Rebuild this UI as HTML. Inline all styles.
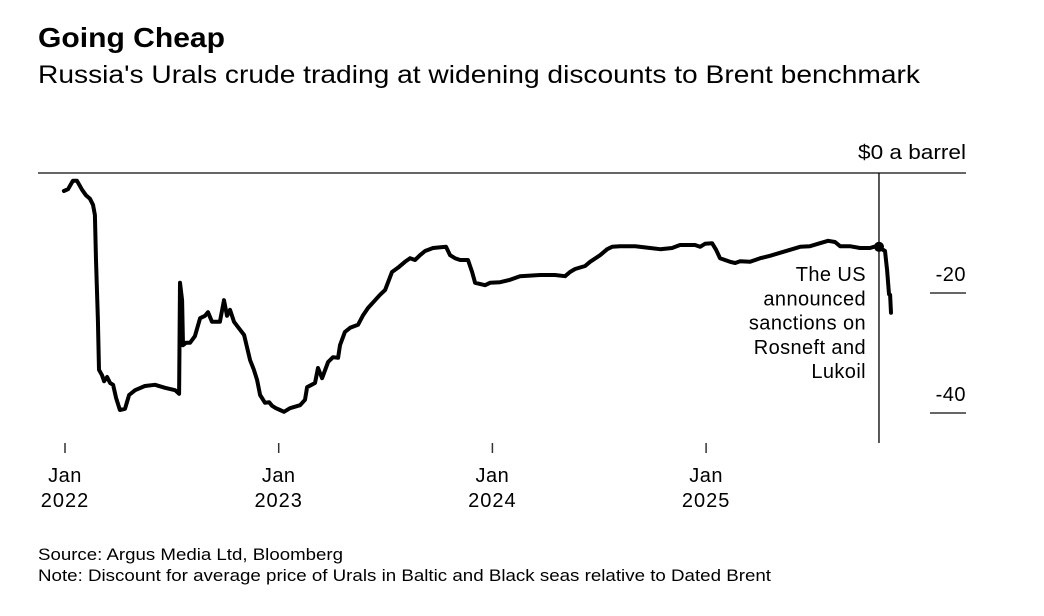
<!DOCTYPE html>
<html><head><meta charset="utf-8"><style>
body{margin:0;background:#fff;width:1044px;height:616px;overflow:hidden;font-family:"Liberation Sans",sans-serif;color:#000}
</style></head><body>
<svg width="1044" height="616" style="position:absolute;left:0;top:0" font-family="Liberation Sans, sans-serif">
<text x="38" y="47" font-size="28" font-weight="bold" textLength="187" lengthAdjust="spacingAndGlyphs">Going Cheap</text>
<text x="38" y="83" font-size="25" textLength="882" lengthAdjust="spacingAndGlyphs">Russia's Urals crude trading at widening discounts to Brent benchmark</text>
<g id="axes"></g>
<g id="plot"></g>
<text x="38" y="560" font-size="17" textLength="305" lengthAdjust="spacingAndGlyphs">Source: Argus Media Ltd, Bloomberg</text>
<text x="38" y="581" font-size="17" textLength="733" lengthAdjust="spacingAndGlyphs">Note: Discount for average price of Urals in Baltic and Black seas relative to Dated Brent</text>
</svg>
<script>
const years=[2021.995,2022.014,2022.037,2022.056,2022.080,2022.098,2022.117,2022.131,2022.140,2022.145,2022.154,2022.159,2022.173,2022.183,2022.197,2022.211,2022.225,2022.239,2022.257,2022.281,2022.300,2022.328,2022.374,2022.421,2022.468,2022.515,2022.534,2022.538,2022.548,2022.552,2022.566,2022.585,2022.608,2022.632,2022.655,2022.669,2022.688,2022.725,2022.744,2022.758,2022.772,2022.791,2022.810,2022.838,2022.866,2022.884,2022.899,2022.913,2022.936,2022.955,2022.969,2022.987,2023.006,2023.025,2023.053,2023.100,2023.123,2023.133,2023.170,2023.184,2023.203,2023.231,2023.254,2023.278,2023.287,2023.310,2023.334,2023.371,2023.395,2023.418,2023.451,2023.474,2023.498,2023.530,2023.558,2023.591,2023.615,2023.638,2023.661,2023.685,2023.722,2023.783,2023.802,2023.825,2023.849,2023.886,2023.905,2023.919,2023.966,2023.989,2024.036,2024.083,2024.129,2024.223,2024.293,2024.340,2024.363,2024.387,2024.434,2024.457,2024.504,2024.537,2024.560,2024.597,2024.668,2024.738,2024.785,2024.841,2024.878,2024.948,2024.972,2024.995,2025.028,2025.047,2025.065,2025.112,2025.136,2025.159,2025.206,2025.253,2025.299,2025.346,2025.393,2025.440,2025.486,2025.533,2025.571,2025.603,2025.627,2025.673,2025.720,2025.767,2025.795,2025.814,2025.837,2025.847,2025.856,2025.861,2025.865];
const values=[-3.0,-2.7,-1.3,-1.3,-2.8,-3.7,-4.3,-5.3,-7.0,-14.5,-24.5,-32.8,-33.7,-34.7,-34.0,-35.0,-35.3,-37.5,-39.5,-39.3,-37.0,-36.2,-35.5,-35.3,-35.8,-36.2,-36.8,-18.3,-21.2,-28.7,-28.3,-28.3,-27.2,-24.2,-23.8,-23.2,-24.8,-24.8,-21.2,-23.8,-22.8,-24.8,-25.7,-27.0,-31.2,-32.8,-34.5,-37.0,-38.3,-38.2,-38.8,-39.2,-39.5,-39.8,-39.2,-38.7,-37.8,-35.7,-35.0,-32.5,-34.2,-31.5,-30.7,-30.8,-28.7,-26.5,-25.8,-25.3,-23.7,-22.5,-21.2,-20.3,-19.5,-16.5,-15.8,-14.8,-14.2,-14.5,-13.7,-13.0,-12.5,-12.3,-13.7,-14.2,-14.5,-14.5,-16.5,-18.3,-18.7,-18.3,-18.2,-17.8,-17.2,-17.0,-17.0,-17.2,-16.5,-16.0,-15.5,-14.8,-13.7,-12.7,-12.3,-12.2,-12.2,-12.5,-12.7,-12.5,-12.0,-12.0,-12.3,-11.8,-11.7,-12.8,-14.2,-14.8,-15.0,-14.7,-14.8,-14.2,-13.8,-13.3,-12.8,-12.3,-12.2,-11.7,-11.3,-11.5,-12.2,-12.2,-12.5,-12.5,-12.2,-12.5,-13.0,-16.2,-20.2,-20.3,-23.3];
const xTickYears=[2022,2023,2024,2025];
const xTickLabels=["2022","2023","2024","2025"];
const yTicks=[-20,-40];
const eventYear=2025.809, eventValue=-12.3;
const NS="http://www.w3.org/2000/svg";
const X=t=>65+(t-2022)*213.7;
const Y=v=>173-v*6;
function mk(tag,attrs,parent,txt){const e=document.createElementNS(NS,tag);for(const k in attrs)e.setAttribute(k,attrs[k]);if(txt!==undefined)e.textContent=txt;parent.appendChild(e);return e;}
const ax=document.getElementById('axes'),pl=document.getElementById('plot');
let z=mk('line',{x1:38,x2:966,y1:Y(0),y2:Y(0),stroke:'#333','stroke-width':1.5},ax);


let zl=mk('text',{x:966,y:Y(0)-14,'font-size':20,'text-anchor':'end',textLength:108,lengthAdjust:'spacingAndGlyphs'},ax,'$0 a barrel');


yTicks.forEach(v=>{
 const l=mk('line',{x1:930,x2:966,y1:Y(v),y2:Y(v),stroke:'#333','stroke-width':1.5},ax);
 
 
 const t=mk('text',{x:966,y:Y(v)-12,'font-size':20,'text-anchor':'end','letter-spacing':'0.5'},ax,String(v));
 
 
});
xTickYears.forEach((yr,i)=>{
 const l=mk('line',{x1:X(yr),x2:X(yr),y1:443,y2:453,stroke:'#333','stroke-width':1.5},ax);
 
 
 const t=mk('text',{x:X(yr),y:482,'font-size':20,'text-anchor':'middle','letter-spacing':'0.5'},ax,'Jan');
 
 
 const t2=mk('text',{x:X(yr),y:507,'font-size':20,'text-anchor':'middle','letter-spacing':'1'},ax,xTickLabels[i]);
 
 
});
const ev=mk('line',{x1:X(eventYear),x2:X(eventYear),y1:Y(0),y2:443,stroke:'#000','stroke-width':1.3},pl);


const pts=years.map((t,i)=>X(t).toFixed(1)+','+Y(values[i]).toFixed(1)).join(' ');
const line=mk('polyline',{points:pts,fill:'none',stroke:'#000','stroke-width':4,'stroke-linejoin':'round','stroke-linecap':'round'},pl);


const dot=mk('circle',{cx:X(eventYear),cy:Y(eventValue),r:5,fill:'#000'},pl);


const ann=["The US","announced","sanctions on","Rosneft and","Lukoil"];
const ag=mk('g',{},pl);


ann.forEach((s,i)=>{mk('text',{x:866,y:281+i*24.3,'font-size':20,'text-anchor':'end','letter-spacing':'0.4'},ag,s);});
</script>
</body></html>
